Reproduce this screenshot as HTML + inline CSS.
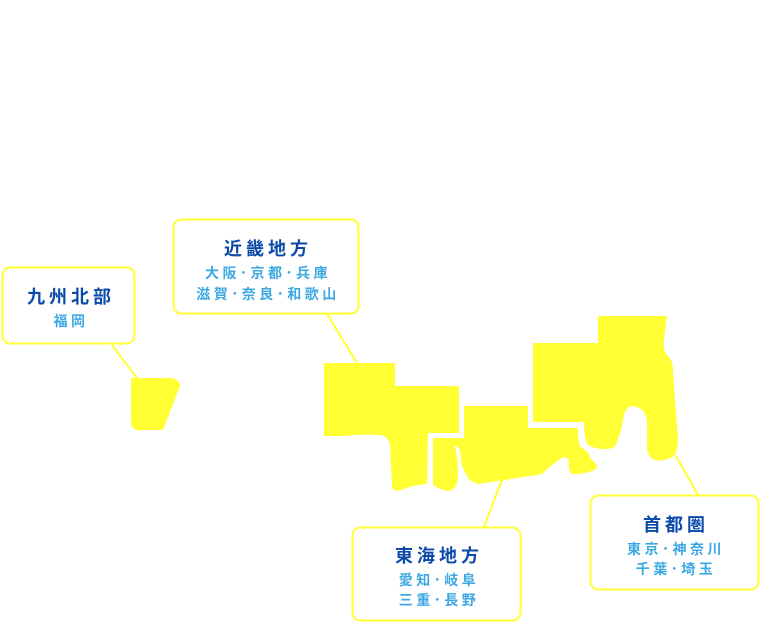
<!DOCTYPE html>
<html><head><meta charset="utf-8"><style>
html,body{margin:0;padding:0;background:#fff;width:764px;height:623px;overflow:hidden}
svg{display:block}
.t{font-family:"Liberation Sans","Noto Sans CJK JP",sans-serif;font-weight:bold;fill:#0b4aa8;font-size:18px;letter-spacing:4px}
.s{font-family:"Liberation Sans","Noto Sans CJK JP",sans-serif;font-weight:bold;fill:#3da8e2;font-size:14px;letter-spacing:3.5px}
</style></head><body>
<svg width="764" height="623" viewBox="0 0 764 623">
<g fill="#ffff33">
<path d="M131,378 L172,378 Q181,381 180,386 L163,430 L136,430 Q131,428 131,422 Z"/>
<path d="M324,363 L395,363 L395,386 L459,386 L459,433 L428,433 L427,484 Q412,485 402,490 Q392,492 392,486 L390,445 Q388,436 380,435 Q360,434 345,436 L324,436 Z"/>
<path d="M433,438 L464,438 L464,406 L528,406 L528,428 L578,428 L578,434 Q578,440 580,447 Q590,452 590,458 Q598,465 597,468 Q590,474 572,474 Q568,472 569,460 Q566,455 560,459 Q550,466 542,474 Q530,476 479,484 Q470,482 467,476 Q460,465 461,455 Q460,446 454,446 Q458,452 458,478 Q457,489 449,491 Q440,490 433,485 Z"/>
<path d="M533,343 L598,343 L598,316 L667,316 L664,340 Q662,352 670,358 Q673,363 673,372 L678,440 Q677,456 672,457 Q663,462 655,460 Q648,458 647,448 L647,420 Q645,408 633,406 Q625,406 623,420 Q618,445 613,448 Q598,451 588,445 Q584,438 584,422 L533,422 Z"/>
</g>
<g stroke="#ffff33" stroke-width="2" fill="none">
<line x1="112" y1="345" x2="137" y2="378"/>
<line x1="327" y1="314" x2="357" y2="363"/>
<line x1="484" y1="527" x2="502" y2="480"/>
<line x1="676" y1="456" x2="698" y2="495"/>
</g>
<g stroke="#ffff33" stroke-width="2" fill="#fff">
<rect x="2.5" y="267.5" width="132" height="76" rx="8"/>
<rect x="173.5" y="219.5" width="185" height="94" rx="8"/>
<rect x="352.5" y="527.5" width="168" height="93" rx="8"/>
<rect x="590.5" y="495.5" width="168" height="94" rx="8"/>
</g>
<g text-anchor="middle">
<text class="t" x="71" y="303">九州北部</text>
<text class="s" x="71" y="326">福岡</text>
<text class="t" x="268" y="255">近畿地方</text>
<text class="s" x="268" y="278">大阪･京都･兵庫</text>
<text class="s" x="268" y="299">滋賀･奈良･和歌山</text>
<text class="t" x="439" y="562">東海地方</text>
<text class="s" x="439" y="585">愛知･岐阜</text>
<text class="s" x="439" y="605">三重･長野</text>
<text class="t" x="676" y="531">首都圏</text>
<text class="s" x="676" y="554">東京･神奈川</text>
<text class="s" x="676" y="574">千葉･埼玉</text>
</g>
</svg>
</body></html>
